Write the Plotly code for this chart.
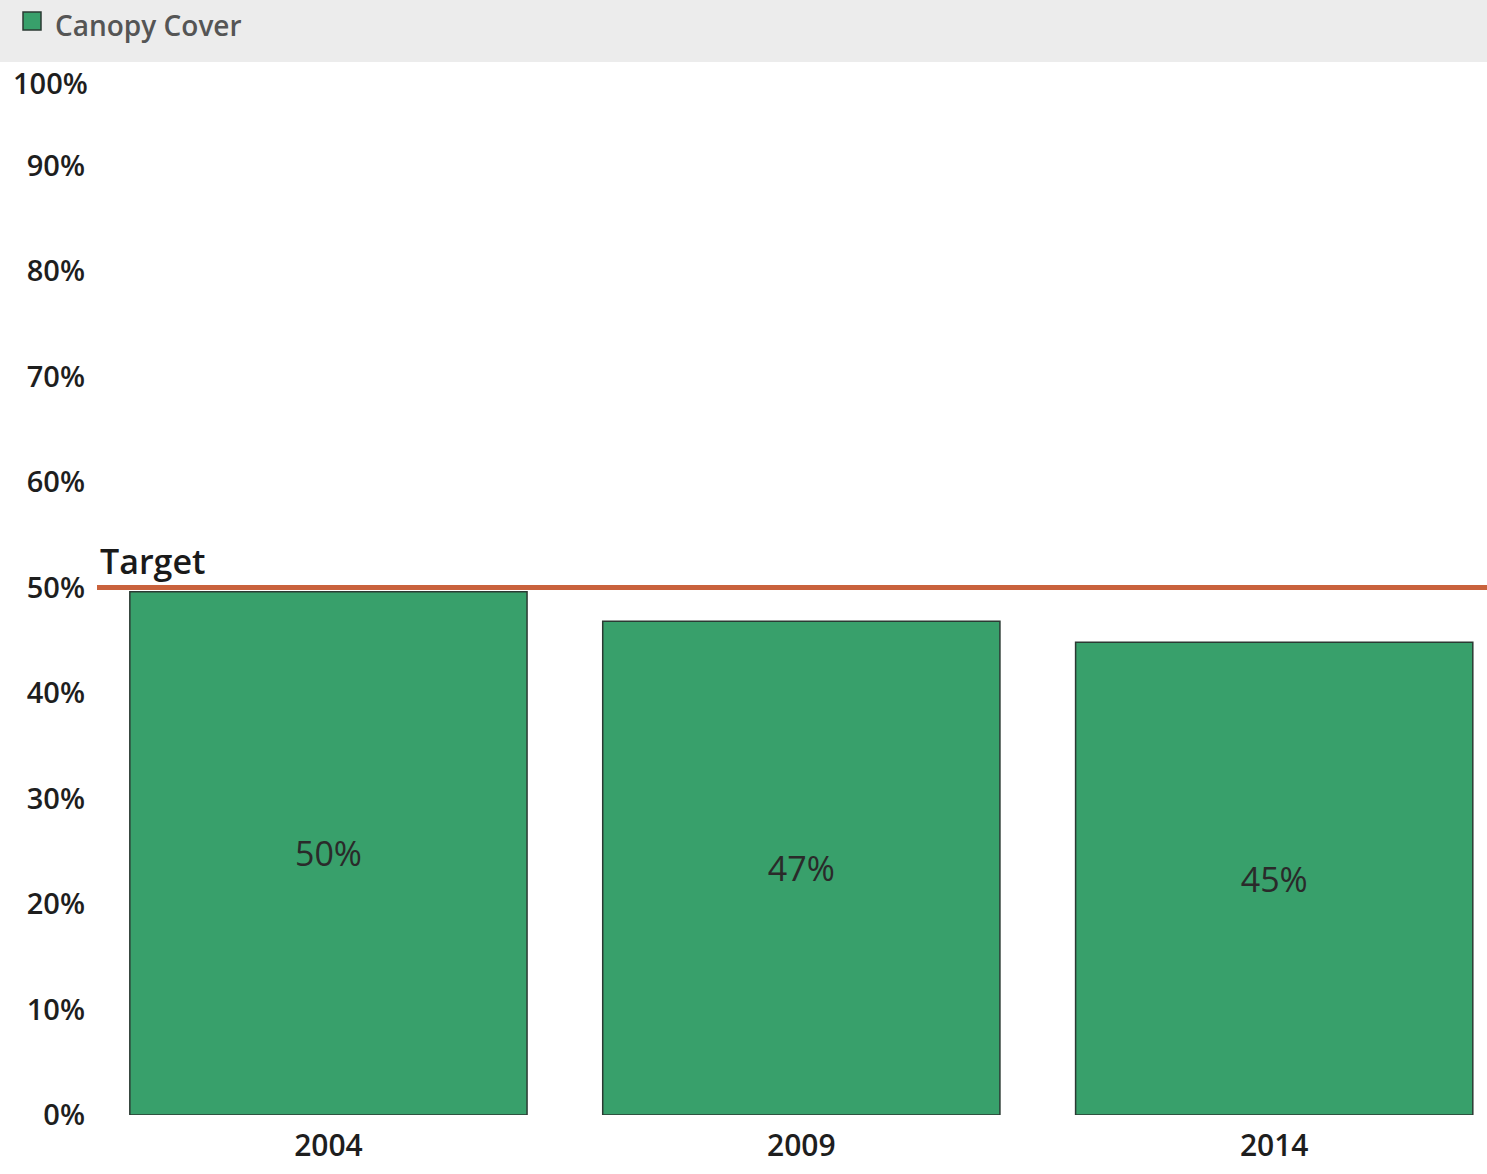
import plotly.graph_objects as go

years = ["2004", "2009", "2014"]
canopy_cover = [49.6, 46.8, 44.8]
target_value = 50
y_ticks = [0, 10, 20, 30, 40, 50, 60, 70, 80, 90]
y_tick_labels = [f"{v}%" for v in y_ticks]
top_label = "100%"

W, H = 1487, 1174
ML, MR, MT, MB = 92, 0, 60, 59
plot_w = W - ML - MR
plot_h = H - MT - MB

def px_x(p):
    return (p - ML) / plot_w

def px_y(p):
    return (H - MB - p) / plot_h

bar_color = "#38a06b"

fig = go.Figure()
fig.add_trace(go.Bar(
    x=years, y=canopy_cover, name="Canopy Cover",
    marker=dict(color=bar_color, line=dict(color="#2b3a33", width=1.5)),
    texttemplate="%{y:.0f}%", textposition="inside", insidetextanchor="middle",
    textfont=dict(size=34, color="#2a2a2a", family="Open Sans"),
    showlegend=False,
))

# grey legend band
fig.add_shape(type="rect", xref="paper", yref="paper",
              x0=px_x(0), x1=px_x(W), y0=px_y(62), y1=px_y(0),
              fillcolor="#ececec", line=dict(width=0), layer="below")
# legend swatch and label
fig.add_shape(type="rect", xref="paper", yref="paper",
              x0=px_x(23), x1=px_x(41), y0=px_y(30), y1=px_y(12),
              fillcolor=bar_color, line=dict(color="#2b3a33", width=1.5))
fig.add_annotation(text="Canopy Cover", xref="paper", yref="paper",
                   x=px_x(53), y=px_y(25), xanchor="left", yanchor="middle",
                   showarrow=False,
                   font=dict(size=28, color="#555555", family="Open Sans", weight=600))

# top axis label (sits just below the legend band)
fig.add_annotation(text=top_label, xref="paper", yref="paper",
                   x=px_x(90), y=px_y(82), xanchor="right", yanchor="middle",
                   showarrow=False,
                   font=dict(size=29, color="#1e1e1e", family="Open Sans", weight=600))

# target line
fig.add_shape(type="line", xref="paper", yref="y",
              x0=px_x(97), x1=1.0, y0=target_value, y1=target_value,
              line=dict(color="#c9623c", width=5))
fig.add_annotation(text="Target", xref="paper", yref="y",
                   x=px_x(98), y=target_value, xanchor="left", yanchor="bottom",
                   showarrow=False, yshift=2,
                   font=dict(size=34, color="#1a1a1a", family="Open Sans", weight=600))

fig.update_layout(
    width=W, height=H,
    margin=dict(l=ML, r=MR, t=MT, b=MB, pad=0),
    plot_bgcolor="white", paper_bgcolor="white",
    bargap=0.16,
    showlegend=False,
    font=dict(family="Open Sans"),
)
fig.update_yaxes(range=[0, 100], tickvals=y_ticks, ticktext=y_tick_labels,
                 showgrid=False, zeroline=False, showline=False, automargin=False,
                 tickfont=dict(size=29, color="#1e1e1e", family="Open Sans", weight=600),
                 ticks="", ticklabelstandoff=6)
fig.update_xaxes(range=[-0.5, 2.45], showgrid=False, showline=False, ticks="",
                 automargin=False, ticklabelstandoff=10,
                 tickfont=dict(size=30, color="#1e1e1e", family="Open Sans", weight=600))

fig.write_html("out.html", config={"displayModeBar": False},
               post_script="document.body.style.margin='0px';document.body.style.overflow='hidden';")
